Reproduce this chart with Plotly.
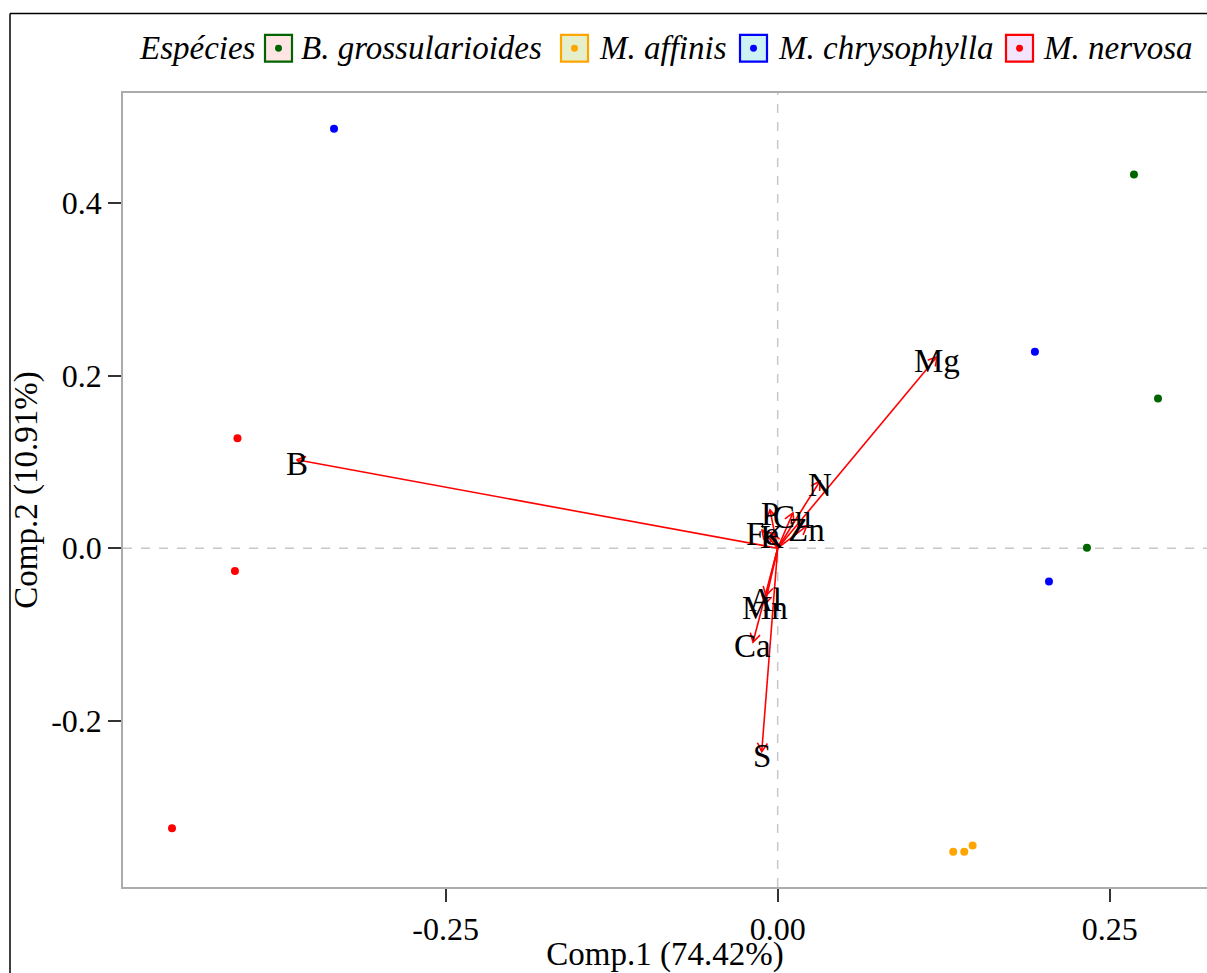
import math
import plotly.graph_objects as go

# ---------------- data ----------------
species = ["B. grossularioides", "M. affinis", "M. chrysophylla", "M. nervosa"]
point_colors = ["#006400", "#FFA500", "#0000FF", "#FF0000"]
legend_fills = ["#FEE4E2", "#E5EFCC", "#CCF2F3", "#F4E5FF"]

pc1_bgross = [0.2683, 0.2864, 0.2329]
pc2_bgross = [0.4333, 0.1736, 0.0006]
pc1_maff = [0.1322, 0.1405, 0.1468]
pc2_maff = [-0.3521, -0.3521, -0.3448]
pc1_mchry = [-0.3341, 0.1937, 0.2043]
pc2_mchry = [0.4863, 0.2279, -0.0387]
pc1_mnerv = [-0.4068, -0.4087, -0.4561]
pc2_mnerv = [0.1275, -0.0263, -0.3248]

scores_x = [pc1_bgross, pc1_maff, pc1_mchry, pc1_mnerv]
scores_y = [pc2_bgross, pc2_maff, pc2_mchry, pc2_mnerv]

loading_names = ["Mg", "N", "B", "S", "Ca", "Mn", "Al", "P", "Cu", "Zn", "Fe", "K"]
loading_x = [0.1200, 0.0319, -0.3622, -0.0120, -0.0186, -0.0096, -0.0088, -0.0058, 0.0115, 0.0220, -0.0118, -0.0043]
loading_y = [0.2221, 0.0779, 0.1025, -0.2360, -0.1090, -0.0650, -0.0550, 0.0444, 0.0410, 0.0260, 0.0210, 0.0180]

x_tickvals = [-0.25, 0.0, 0.25]
x_ticktext = ["-0.25", "0.00", "0.25"]
y_tickvals = [-0.2, 0.0, 0.2, 0.4]
y_ticktext = ["-0.2", "0.0", "0.2", "0.4"]

x_title = "Comp.1 (74.42%)"
y_title = "Comp.2 (10.91%)"
legend_title = "Espécies"

# ---------------- layout constants ----------------
W, H = 1207, 973
ML, MR, MT, MB = 123, 0, 93, 82
PW, PH = W - ML - MR, H - MT - MB
XR = [-0.4930, 0.3233]
YR = [-0.3929, 0.5279]
FONT = "Liberation Serif, Times New Roman, serif"
FS_TICK = 32
FS_TITLE = 33
FS_LEG = 33
FS_LAB = 33

sx = PW / (XR[1] - XR[0])
sy = PH / (YR[1] - YR[0])


def px2paper(px, py):
    return (px - ML) / PW, (H - MB - py) / PH


fig = go.Figure()

# zero lines
fig.add_hline(y=0, line=dict(color="#C8C8C8", width=1.5, dash="dash"), layer="below")
fig.add_vline(x=0, line=dict(color="#C8C8C8", width=1.5, dash="dash"), layer="below")

# score points
for name, xs, ys, col in zip(species, scores_x, scores_y, point_colors):
    fig.add_trace(go.Scatter(x=xs, y=ys, mode="markers", name=name,
                             marker=dict(size=8, color=col), showlegend=False,
                             hoverinfo="skip"))

# loading arrows (shaft + open V head)
ax_, ay_ = [], []
L = 10.0
for lx, ly in zip(loading_x, loading_y):
    ax_ += [0, lx, None]
    ay_ += [0, ly, None]
    th = math.atan2(ly * sy, lx * sx)
    b = []
    for s in (1, -1):
        a = th + s * math.radians(30)
        b.append((lx - L * math.cos(a) / sx, ly - L * math.sin(a) / sy))
    ax_ += [b[0][0], lx, b[1][0], None]
    ay_ += [b[0][1], ly, b[1][1], None]
fig.add_trace(go.Scatter(x=ax_, y=ay_, mode="lines", line=dict(color="#FF0000", width=1.6),
                         showlegend=False, hoverinfo="skip"))

annotations = []
# loading labels
for nm, lx, ly in zip(loading_names, loading_x, loading_y):
    annotations.append(dict(x=lx, y=ly, xref="x", yref="y", text=nm, showarrow=False,
                            xanchor="center", yanchor="middle", yshift=-4,
                            font=dict(family=FONT, size=FS_LAB, color="black")))

# ---------------- custom legend ----------------
shapes = []
leg_cy = 48
box_left = [265, 561, 740, 1006]
text_left = [299, 597, 776, 1041]
bw = 27
x0, _ = px2paper(137, leg_cy)
_, yc = px2paper(0, leg_cy)
annotations.append(dict(xref="paper", yref="paper", x=x0, y=yc, xanchor="left", yanchor="middle",
                        text="<i>%s</i>" % legend_title, showarrow=False,
                        font=dict(family=FONT, size=FS_LEG, color="black")))
for name, col, fill, bl, tl in zip(species, point_colors, legend_fills, box_left, text_left):
    bx0, by0 = px2paper(bl, leg_cy + bw / 2)
    bx1, by1 = px2paper(bl + bw, leg_cy - bw / 2)
    shapes.append(dict(type="rect", xref="paper", yref="paper", x0=bx0, x1=bx1, y0=by0, y1=by1,
                       line=dict(color=col, width=2.2), fillcolor=fill, layer="above"))
    cx0, cy0 = px2paper(bl + bw / 2 - 3.5, leg_cy + 3.5)
    cx1, cy1 = px2paper(bl + bw / 2 + 3.5, leg_cy - 3.5)
    shapes.append(dict(type="circle", xref="paper", yref="paper", x0=cx0, x1=cx1, y0=cy0, y1=cy1,
                       line=dict(width=0), fillcolor=col, layer="above"))
    tx, _ = px2paper(tl, leg_cy)
    annotations.append(dict(xref="paper", yref="paper", x=tx, y=yc, xanchor="left", yanchor="middle",
                            text="<i>%s</i>" % name, showarrow=False,
                            font=dict(family=FONT, size=FS_LEG, color="black")))

# outer black frame (left and top)
fx, fy_top = px2paper(10, 13)
_, fy_bot = px2paper(10, H + 5)
fx_r, _ = px2paper(W + 5, 13)
shapes.append(dict(type="line", xref="paper", yref="paper", x0=fx, x1=fx, y0=fy_bot, y1=fy_top,
                   line=dict(color="black", width=1.5)))
shapes.append(dict(type="line", xref="paper", yref="paper", x0=fx, x1=fx_r, y0=fy_top, y1=fy_top,
                   line=dict(color="black", width=1.5)))

fig.update_layout(
    width=W, height=H, autosize=False,
    margin=dict(l=ML, r=MR, t=MT, b=MB),
    plot_bgcolor="white", paper_bgcolor="white",
    font=dict(family=FONT, size=FS_TICK, color="black"),
    shapes=list(fig.layout.shapes) + shapes,
    annotations=annotations,
    showlegend=False,
    xaxis=dict(range=XR, tickvals=x_tickvals, ticktext=x_ticktext, showgrid=False, zeroline=False,
               showline=True, linecolor="#ABABAB", linewidth=1.5, mirror=True,
               ticks="outside", ticklen=13, tickwidth=1.5, tickcolor="#333333",
               tickfont=dict(family=FONT, size=FS_TICK, color="black"),
               title=dict(text=x_title, font=dict(family=FONT, size=FS_TITLE, color="black"), standoff=3)),
    yaxis=dict(range=YR, tickvals=y_tickvals, ticktext=y_ticktext, showgrid=False, zeroline=False,
               showline=True, linecolor="#ABABAB", linewidth=1.5, mirror=False,
               ticks="outside", ticklen=13, tickwidth=1.5, tickcolor="#333333",
               tickfont=dict(family=FONT, size=FS_TICK, color="black"),
               title=dict(text=y_title, font=dict(family=FONT, size=FS_TITLE, color="black"), standoff=4)),
)

fig.write_html("out.html")
